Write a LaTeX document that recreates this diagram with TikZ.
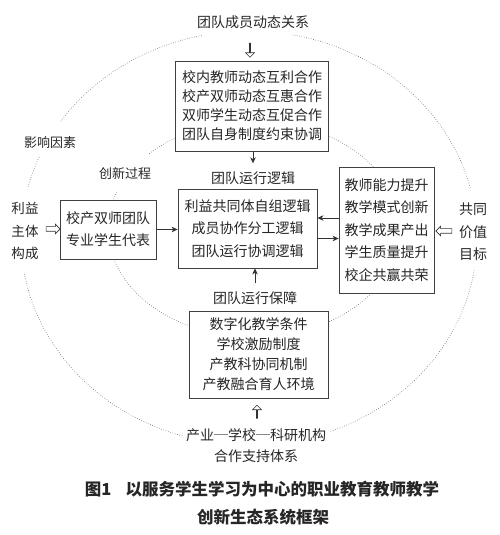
\documentclass[tikz,border=0pt]{standalone}
\usepackage{fontspec}
\setmainfont{Noto Sans CJK SC}
\usepackage{tikz}
\usetikzlibrary{shapes.arrows}
\usetikzlibrary{arrows.meta}

\tikzset{
  box/.style={draw=black!75, line width=0.8pt, fill=white, align=center, inner sep=0pt, text=black!85},
  lbl/.style={align=center, inner sep=1pt, text=black!85},
  dots/.style={black!60, line width=0.6pt, dash pattern=on 0.6pt off 1.8pt},
  arr/.style={black!80, line width=0.8pt, -{Stealth[length=6pt,width=5.5pt,inset=1.8pt]}},
  hollow/.style={single arrow, draw=black!80, line width=0.6pt, fill=white, inner xsep=0pt, inner ysep=2pt, minimum width=9pt, single arrow head extend=2.5pt}
}

\begin{document}
\begin{tikzpicture}[x=1pt,y=1pt]
            \useasboundingbox (0,0) rectangle (500,535);
            \coordinate (outerC) at (249,297);
            \coordinate (innerC) at (254,306);
            \draw[dots] (outerC) ++(14:228pt and 207pt) arc[start angle=14, end angle=79, x radius=228pt, y radius=207pt];
            \draw[dots] (outerC) ++(102:228pt and 207pt) arc[start angle=102, end angle=146, x radius=228pt, y radius=207pt];
            \draw[dots] (outerC) ++(157:228pt and 207pt) arc[start angle=157, end angle=166, x radius=228pt, y radius=207pt];
            \draw[dots] (outerC) ++(190:228pt and 207pt) arc[start angle=190, end angle=253, x radius=228pt, y radius=207pt];
            \draw[dots] (outerC) ++(291:228pt and 207pt) arc[start angle=291, end angle=351, x radius=228pt, y radius=207pt];
            \draw[dots] (innerC) ++(33:146pt and 108pt) arc[start angle=33, end angle=62, x radius=146pt, y radius=108pt];
            \draw[dots] (innerC) ++(121:146pt and 108pt) arc[start angle=121, end angle=136, x radius=146pt, y radius=108pt];
            \draw[dots] (innerC) ++(160:146pt and 108pt) arc[start angle=160, end angle=166, x radius=146pt, y radius=108pt];
            \draw[dots] (innerC) ++(194:146pt and 108pt) arc[start angle=194, end angle=244, x radius=146pt, y radius=108pt];
            \draw[dots] (innerC) ++(297:146pt and 108pt) arc[start angle=297, end angle=326, x radius=146pt, y radius=108pt];
            \node[lbl, font=\fontsize{14}{18}\selectfont] (relTitle) at (253,513) {团队成员动态关系};
            \node[hollow, minimum height=14pt, shape border rotate=270] (arrTop) at (250,485) {};
            \node[box, minimum width=153pt, minimum height=90pt, font=\fontsize{14}{19}\selectfont] (dynBox) at (252,429) {校内教师动态互利合作\\校产双师动态互惠合作\\双师学生动态互促合作\\团队自身制度约束协调};
            \node[lbl, font=\fontsize{14}{18}\selectfont] (logicTitle) at (253,357) {团队运行逻辑};
            \node[box, minimum width=139pt, minimum height=79pt, font=\fontsize{14}{22.5}\selectfont] (logicBox) at (247.5,306.5) {利益共同体自组逻辑\\成员协作分工逻辑\\团队运行协调逻辑};
            \node[box, minimum width=96pt, minimum height=59pt, font=\fontsize{14}{22}\selectfont] (teamBox) at (108,305.5) {校产双师团队\\专业学生代表};
            \node[box, minimum width=95pt, minimum height=126pt, font=\fontsize{14}{22.5}\selectfont] (goalBox) at (386.5,305) {教师能力提升\\教学模式创新\\教学成果产出\\学生质量提升\\校企共赢共荣};
            \node[lbl, font=\fontsize{13.5}{22.5}\selectfont] (subjLabel) at (25,304) {利益\\主体\\构成};
            \node[lbl, font=\fontsize{14}{22.5}\selectfont] (valueLabel) at (473,303) {共同\\价值\\目标};
            \node[hollow, minimum height=14pt] (arrLeft) at (52,306) {};
            \node[hollow, minimum height=16pt, shape border rotate=180] (arrRight) at (445,304) {};
            \node[lbl, font=\fontsize{13}{16}\selectfont] (factorLabel) at (50,392) {影响因素};
            \node[lbl, font=\fontsize{13}{16}\selectfont] (processLabel) at (125,361) {创新过程};
            \node[lbl, font=\fontsize{14}{18}\selectfont] (guardTitle) at (255,237) {团队运行保障};
            \node[box, minimum width=139pt, minimum height=87pt, font=\fontsize{14}{20}\selectfont] (guardBox) at (258.5,180.5) {数字化教学条件\\学校激励制度\\产教科协同机制\\产教融合育人环境};
            \node[hollow, minimum height=13pt, shape border rotate=90] (arrBottom) at (257,123) {};
            \node[lbl, font=\fontsize{14}{21}\selectfont] (supportLabel) at (256,89.5) {产业─学校─科研机构\\合作支持体系};
            \node[lbl, font=\bfseries\fontsize{16.5}{20}\selectfont] (capA) at (262,46) {图1\hspace{14pt}以服务学生学习为中心的职业教育教师教学};
            \node[lbl, font=\bfseries\fontsize{16.5}{20}\selectfont] (capB) at (263,18) {创新生态系统框架};
            \draw[arr, shorten >=7pt] (dynBox.south -| logicTitle) -- (logicTitle.north);
            \draw[arr] (teamBox.east) -- (teamBox.east -| logicBox.west);
            \draw[arr] ([yshift=12pt]goalBox.west) -- ([yshift=12pt]goalBox.west -| logicBox.east);
            \draw[arr] ([yshift=-10pt]logicBox.east) -- ([yshift=-10pt]logicBox.east -| goalBox.west);
            \draw[arr, shorten <=7pt] (guardTitle.north) -- (guardTitle.north |- logicBox.south);
\end{tikzpicture}
\end{document}
